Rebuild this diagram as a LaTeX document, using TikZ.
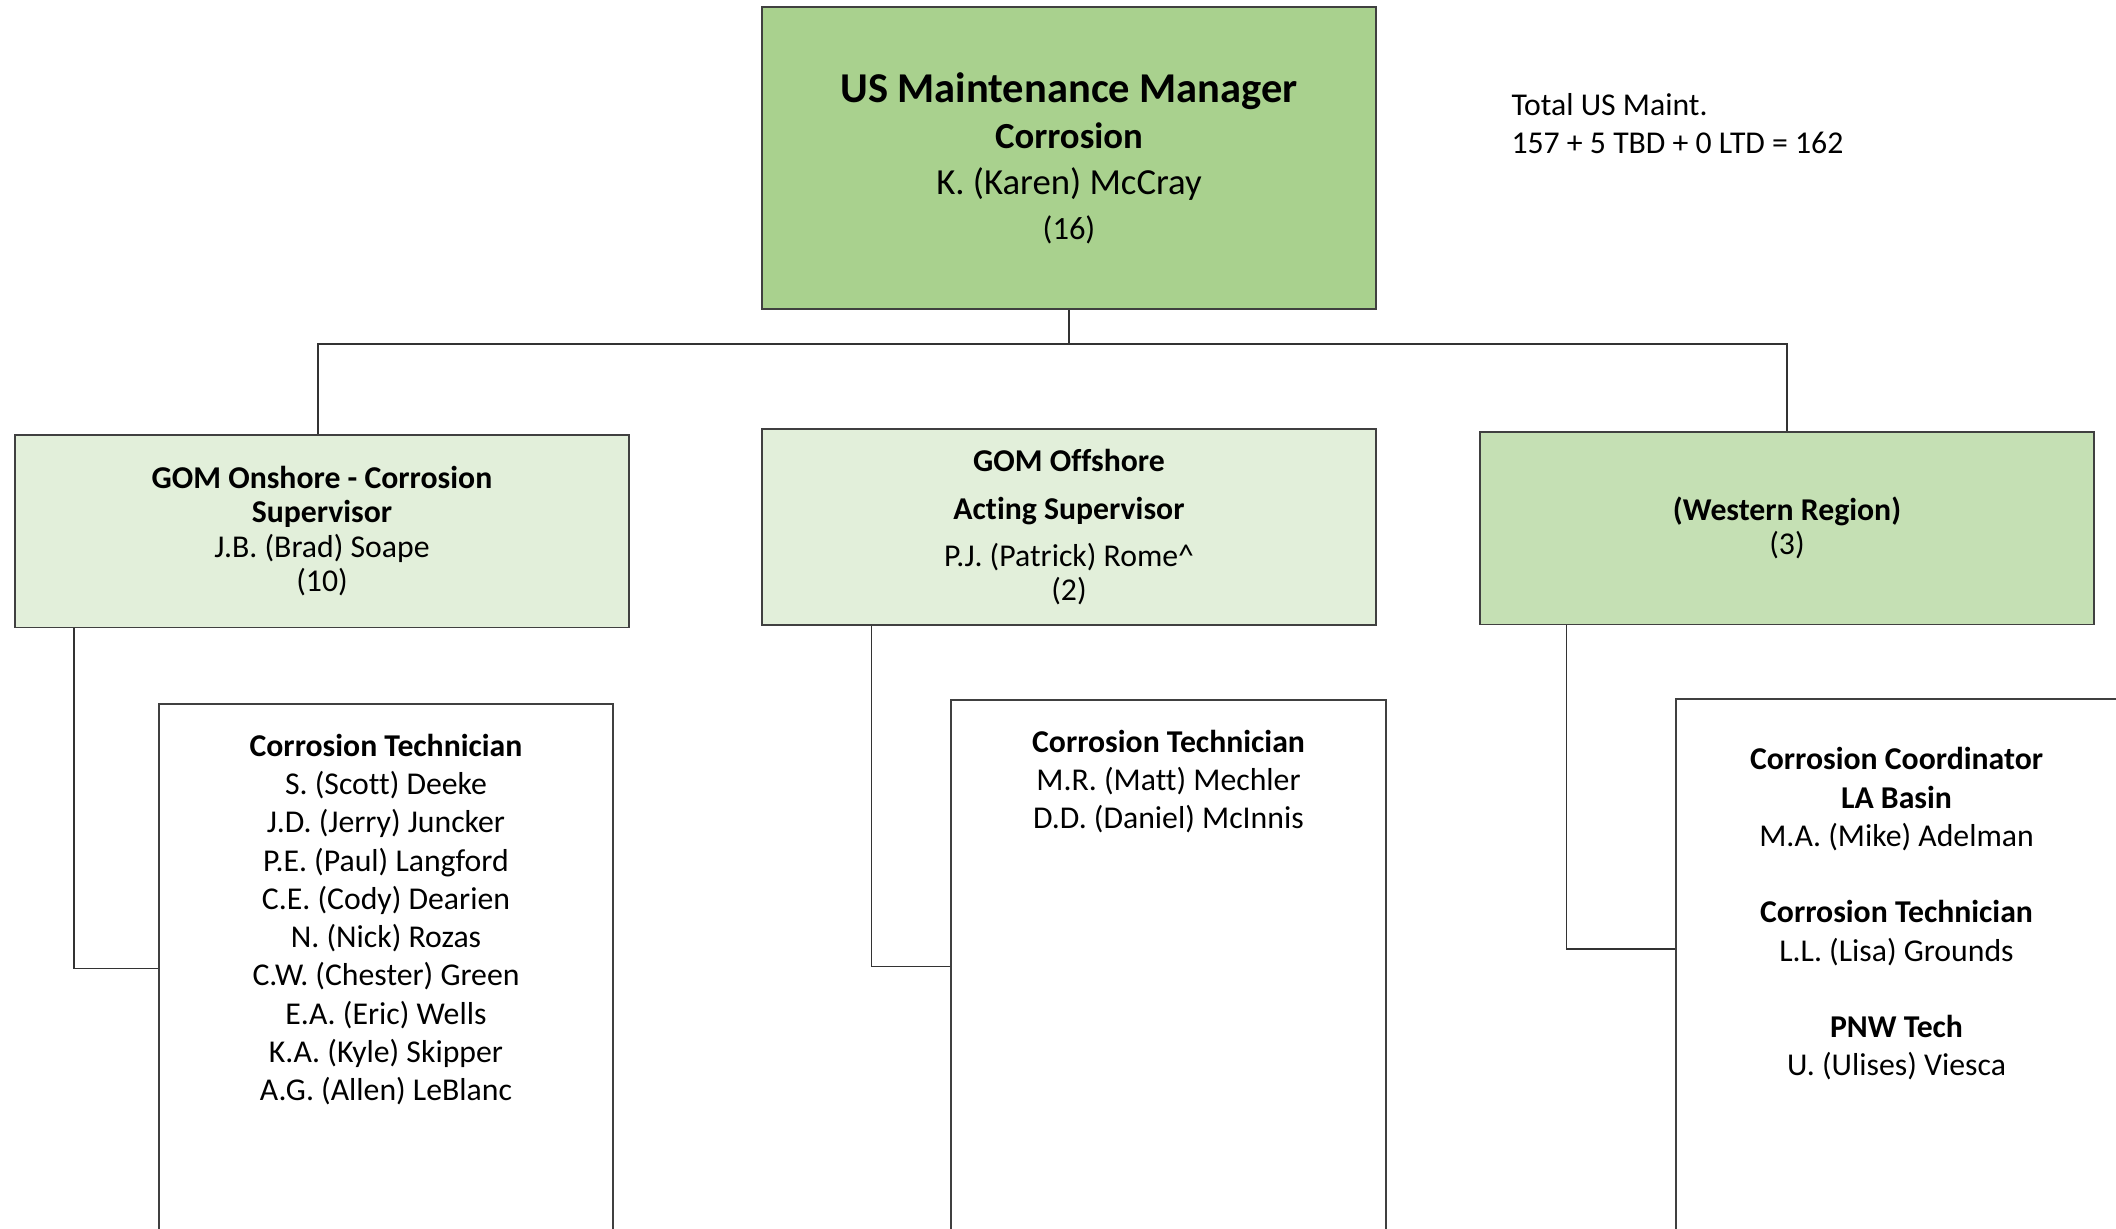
\documentclass[tikz,border=0pt]{standalone}
\usepackage{fontspec}
\setmainfont{Carlito}[Ligatures=CommonOff]
\usetikzlibrary{positioning,calc}
\definecolor{mgrgreen}{HTML}{A9D18E}
\definecolor{supgreen}{HTML}{E2EFDA}
\definecolor{westgreen}{HTML}{C5E0B4}

\begin{document}
\begin{tikzpicture}[x=0.4pt,y=-0.4pt,
    box/.style={draw=black!75, line width=0.6pt, inner sep=0pt, align=center},
    mgrbox/.style={box, fill=mgrgreen, minimum width=245.6pt, minimum height=120.8pt,
        font=\fontsize{14.7}{18.5}\selectfont},
    supbox/.style={box, fill=supgreen, minimum width=245.6pt, minimum height=77pt,
        font=\fontsize{12.7}{13.7}\selectfont},
    techbox/.style={box, minimum width=181.6pt, anchor=north},
    techtext/.style={align=center, inner sep=0pt, anchor=north,
        font=\fontsize{12.7}{15.3}\selectfont},
    link/.style={draw=black!80, line width=0.6pt}]
    \useasboundingbox (0,0) rectangle (2116,1228);
    \clip (0,0) rectangle (2116,1228);

    % Manager
    \node[mgrbox] (mgr) at (1069,158)
        {{\fontsize{17}{18.5}\selectfont\bfseries US Maintenance Manager}\\
         {\bfseries Corrosion}\\
         K. (Karen) McCray\\[-0.8pt]
         {\fontsize{13}{18.5}\selectfont (16)}};
    \node[anchor=north west, align=left, inner sep=0pt,
        font=\fontsize{12.7}{15.3}\selectfont] (total) at (1511,93)
        {Total US Maint.\\157 + 5 TBD + 0 LTD = 162};

    % Supervisors
    \node[supbox] (onsup) at (322,531)
        {\textbf{GOM Onshore - Corrosion}\\ \textbf{Supervisor}\\
         J.B. (Brad) Soape\\ (10)};
    \node[supbox, minimum height=78.4pt] (offsup) at (1069,527)
        {\textbf{GOM Offshore}\\[5.6pt] \textbf{Acting Supervisor}\\[4.8pt]
         P.J. (Patrick) Rome\string^\\ (2)};
    \node[supbox, fill=westgreen] (wrsup) at (1787,528)
        {\textbf{(Western Region)}\\ (3)};

    % Staff boxes
    \node[techbox, minimum height=211.6pt] (ontech) at (386,703) {};
    \node[techbox, minimum width=174pt, minimum height=213.2pt] (offtech) at (1168.5,699) {};
    \node[techbox, minimum height=213.6pt] (wrtech) at (1903,698) {};

    \node[techtext, below=12.2pt of ontech.north] (onlist)
        {\textbf{Corrosion Technician}\\ S. (Scott) Deeke\\ J.D. (Jerry) Juncker\\
         P.E. (Paul) Langford\\ C.E. (Cody) Dearien\\ N. (Nick) Rozas\\
         C.W. (Chester) Green\\ E.A. (Eric) Wells\\ K.A. (Kyle) Skipper\\
         A.G. (Allen) LeBlanc};
    \node[techtext, below=12.2pt of offtech.north] (offlist)
        {\textbf{Corrosion Technician}\\ M.R. (Matt) Mechler\\ D.D. (Daniel) McInnis};
    \node[techtext, below=19.6pt of wrtech.north, xshift=-2.6pt] (wrlist)
        {\textbf{Corrosion Coordinator}\\ \textbf{LA Basin}\\ M.A. (Mike) Adelman\\[15.3pt]
         \textbf{Corrosion Technician}\\ L.L. (Lisa) Grounds\\[15.3pt]
         \textbf{PNW Tech}\\ U. (Ulises) Viesca};

    % Reporting lines
    \coordinate (bus) at (1069,344);
    \draw[link] (mgr.south) -- (bus);
    \draw[link] ([xshift=-1.6pt]onsup.north) |- (bus) -| (wrsup.north);
    \draw[link] ([xshift=24pt]onsup.south west) |- (ontech.west);
    \draw[link] ([xshift=44pt]offsup.south west) |- (offtech.west);
    \draw[link] ([xshift=34.8pt]wrsup.south west) |- ([yshift=-100.4pt]wrtech.north west);
\end{tikzpicture}
\end{document}
